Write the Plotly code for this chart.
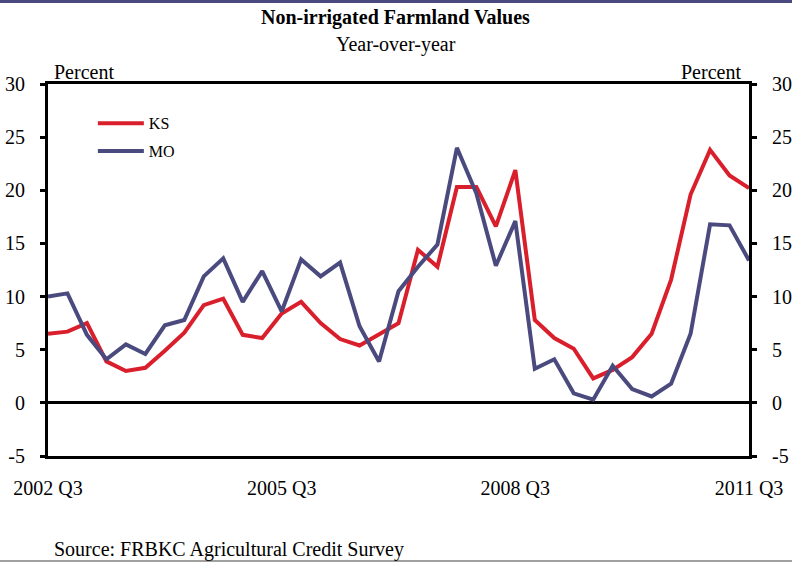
import plotly.graph_objects as go

# quarterly, 2002 Q3 .. 2011 Q3
quarters = []
for yr in range(2002, 2012):
    for q in range(1, 5):
        if (yr == 2002 and q < 3) or (yr == 2011 and q > 3):
            continue
        quarters.append(f"{yr} Q{q}")

ks = [6.5, 6.7, 7.5, 3.9, 3.0, 3.3, 4.9, 6.6, 9.2, 9.8,
      6.4, 6.1, 8.4, 9.5, 7.5, 6.0, 5.4, 6.4, 7.5, 14.4,
      12.8, 20.3, 20.3, 16.6, 21.9, 7.8, 6.1, 5.1, 2.3, 3.1,
      4.3, 6.5, 11.6, 19.6, 23.8, 21.4, 20.2]
mo = [10.0, 10.3, 6.4, 4.1, 5.5, 4.6, 7.3, 7.8, 11.9, 13.6,
      9.5, 12.4, 8.6, 13.5, 11.9, 13.2, 7.2, 3.9, 10.5, 12.8,
      14.9, 24.0, 19.7, 12.9, 17.1, 3.2, 4.1, 0.9, 0.3, 3.5,
      1.3, 0.6, 1.8, 6.5, 16.8, 16.7, 13.4]

tick_labels = ["2002 Q3", "2005 Q3", "2008 Q3", "2011 Q3"]
y_ticks = [-5, 0, 5, 10, 15, 20, 25, 30]
y_text = [str(v) for v in y_ticks]  # plain hyphen for -5

FONT = "Liberation Serif"
RED = "#da1f2c"
NAVY = "#4a4a7e"

fig = go.Figure()
fig.add_trace(go.Scatter(x=quarters, y=ks, name="KS", mode="lines",
                         line=dict(color=RED, width=4), legendgroup="a"))
fig.add_trace(go.Scatter(x=quarters, y=mo, name="MO", mode="lines",
                         line=dict(color=NAVY, width=4), legendgroup="b"))
# dummy trace so the right-hand axis gets drawn
fig.add_trace(go.Scatter(x=quarters, y=mo, yaxis="y2", mode="lines",
                         line=dict(width=0), opacity=0, showlegend=False,
                         hoverinfo="skip"))

fig.update_layout(
    width=792, height=562,
    margin=dict(l=48, r=43, t=84, b=106),
    paper_bgcolor="white", plot_bgcolor="white",
    font=dict(family=FONT, size=20, color="black"),
    showlegend=True,
    legend=dict(x=0.064, y=0.94, xanchor="left", yanchor="top",
                font=dict(size=16), bgcolor="rgba(0,0,0,0)",
                tracegroupgap=4, itemwidth=46),
    xaxis=dict(type="category", range=[0, len(quarters) - 1],
               tickvals=tick_labels, ticktext=tick_labels, automargin=False,
               showline=True, linecolor="black", linewidth=3, mirror=True,
               showgrid=False, ticks="", ticklabelstandoff=12,
               tickangle=0),
    yaxis=dict(range=[-5, 30], tickvals=y_ticks, ticktext=y_text,
               showgrid=False, automargin=False,
               showline=True, linecolor="black", linewidth=3,
               ticks="outside", ticklen=5, tickwidth=3, tickcolor="black",
               ticklabelstandoff=11,
               zeroline=True, zerolinecolor="black", zerolinewidth=3),
    yaxis2=dict(range=[-5, 30], tickvals=y_ticks, ticktext=y_text,
                overlaying="y", automargin=False,
                side="right", showgrid=False, zeroline=False,
                showline=True, linecolor="black", linewidth=3,
                ticks="outside", ticklen=5, tickwidth=3, tickcolor="black",
                ticklabelstandoff=11),
)

fig.add_annotation(text="<b>Non-irrigated Farmland Values</b>", xref="paper", yref="paper",
                   x=0.496, y=1.18, yanchor="middle", showarrow=False, font=dict(size=20))
fig.add_annotation(text="Year-over-year", xref="paper", yref="paper",
                   x=0.496, y=1.105, yanchor="middle", showarrow=False, font=dict(size=20))
fig.add_annotation(text="Percent", xref="paper", yref="paper", x=0.005, y=1.032,
                   xanchor="left", yanchor="middle", showarrow=False, font=dict(size=20))
fig.add_annotation(text="Percent", xref="paper", yref="paper", x=0.992, y=1.032,
                   xanchor="right", yanchor="middle", showarrow=False, font=dict(size=20))
fig.add_annotation(text="Source: FRBKC Agricultural Credit Survey", xref="paper",
                   yref="paper", x=0.006, y=-0.25, xanchor="left", yanchor="middle",
                   showarrow=False, font=dict(size=20))

# top band and bottom rule
fig.add_shape(type="rect", xref="paper", yref="paper", x0=-0.1, x1=1.1,
              ysizemode="pixel", yanchor=1, y0=81, y1=95,
              fillcolor=NAVY, line=dict(width=0), layer="above")
fig.add_shape(type="rect", xref="paper", yref="paper", x0=-0.1, x1=1.1,
              ysizemode="pixel", yanchor=0, y0=-104, y1=-106,
              fillcolor="#a0a0a0", line=dict(width=0))

# drop the default page margin so the figure sits at the window's corner
fig.write_html("out.html", config={"displayModeBar": False},
               post_script="document.body.style.margin='0';"
                           "document.body.style.overflow='hidden';")
